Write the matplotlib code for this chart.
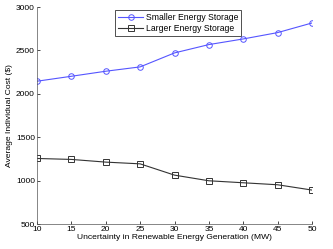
import matplotlib
matplotlib.use("Agg")
import matplotlib.pyplot as plt

plt.rcParams['font.family'] = ['Liberation Sans', 'DejaVu Sans']

uncertainty = [10, 15, 20, 25, 30, 35, 40, 45, 50]
smaller_storage = [2145, 2202, 2260, 2310, 2471, 2567, 2632, 2705, 2816]
larger_storage = [1255, 1244, 1213, 1193, 1063, 998, 975, 952, 891]

fig = plt.figure(figsize=(3.33, 2.49), dpi=100)
ax = fig.add_axes([37 / 333, 1 - 224 / 249, 275 / 333, 217 / 249])

ax.plot(uncertainty, smaller_storage, color='#5555ff', linewidth=0.8, marker='o',
        markersize=4, markerfacecolor='none', markeredgewidth=0.7, label='Smaller Energy Storage')
ax.plot(uncertainty, larger_storage, color='#333333', linewidth=0.8, marker='s',
        markersize=4, markerfacecolor='none', markeredgewidth=0.7, label='Larger Energy Storage')

ax.set_xlim(10, 50)
ax.set_ylim(500, 3000)
ax.set_xticks(uncertainty)
ax.set_yticks([500, 1000, 1500, 2000, 2500, 3000])
ax.tick_params(direction='in', length=2, width=0.5, labelsize=6, pad=1.5,
               top=False, right=False)
for side in ['top', 'right']:
    ax.spines[side].set_visible(False)
for side in ['left', 'bottom']:
    ax.spines[side].set_linewidth(0.5)
    ax.spines[side].set_color('#555555')

ax.set_xlabel('Uncertainty in Renewable Energy Generation (MW)', fontsize=6.1, labelpad=1)
ax.set_ylabel('Average Individual Cost ($)', fontsize=6.1, labelpad=2)

leg = ax.legend(loc='upper left', bbox_to_anchor=(75 / 275, 1.0), fontsize=6.2,
                fancybox=False, framealpha=1, borderpad=0.3, labelspacing=0.3,
                handlelength=3.0, handletextpad=0.3, borderaxespad=0.35)
leg.get_frame().set_edgecolor('#333333')
leg.get_frame().set_linewidth(0.6)

fig.savefig('out.png', dpi=100)
